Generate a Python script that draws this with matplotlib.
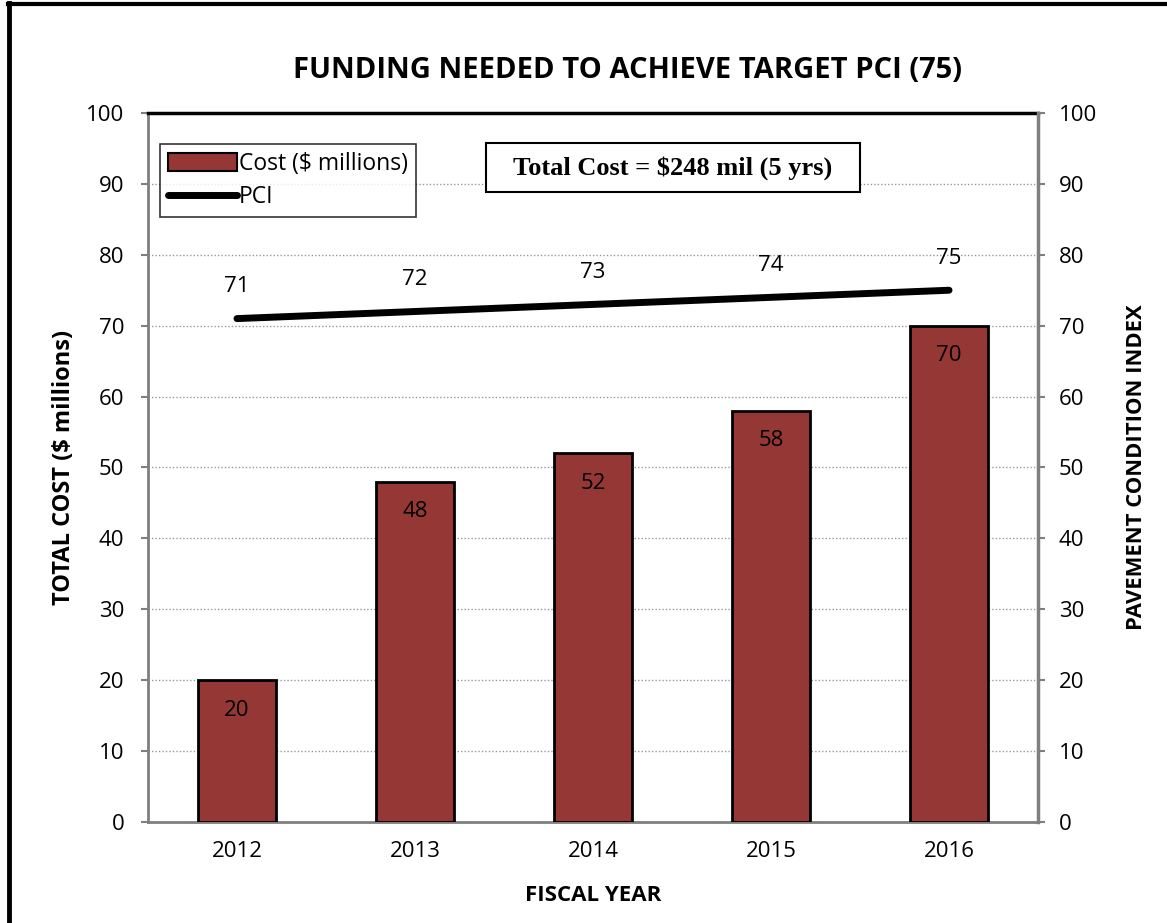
import matplotlib.pyplot as plt
from matplotlib.lines import Line2D
from matplotlib.patches import Rectangle

plt.rcParams['font.family'] = ['Open Sans', 'DejaVu Sans']

years = ['2012', '2013', '2014', '2015', '2016']
cost = [20, 48, 52, 58, 70]
pci = [71, 72, 73, 74, 75]

bar_color = '#953735'
grey = '#7f7f7f'

fig = plt.figure(figsize=(11.67, 9.23), dpi=100)
ax = fig.add_axes([0.1268, 0.1094, 0.7627, 0.7682])
x = list(range(len(years)))

ax.bar(x, cost, width=0.433, color=bar_color, edgecolor='black', linewidth=2, zorder=3)
for xi, v in zip(x, cost):
    ax.annotate(str(v), (xi, v), xytext=(0, -30), textcoords='offset pixels',
                ha='center', va='center', fontsize=16, zorder=4)

ax.set_xlim(-0.5, 4.5)
ax.set_ylim(0, 100)
ax.set_yticks(range(0, 101, 10))
ax.set_xticks(x)
ax.set_xticklabels(years)
ax.grid(axis='y', linestyle=(0, (1, 1.5)), color='#999999', linewidth=1, zorder=0)
ax.tick_params(axis='both', labelsize=16, color=grey, width=1.5, length=5)
ax.tick_params(axis='y', pad=12)
ax.tick_params(axis='x', length=0, pad=14)
for s in ['left', 'bottom', 'right']:
    ax.spines[s].set_color(grey)
    ax.spines[s].set_linewidth(2)
ax.spines['top'].set_color('black')
ax.spines['top'].set_linewidth(2.5)

ax2 = ax.twinx()
ax2.set_ylim(0, 100)
ax2.set_yticks(range(0, 101, 10))
ax2.tick_params(axis='y', labelsize=16, color=grey, width=1.5, length=5, pad=10)
ax2.spines['right'].set_color(grey)
ax2.spines['right'].set_linewidth(2.5)
for s in ['left', 'bottom', 'top']:
    ax2.spines[s].set_visible(False)
ax2.plot(x, pci, color='black', linewidth=5, solid_capstyle='round', zorder=5)
for xi, v in zip(x, pci):
    ax2.annotate(str(v), (xi, v), xytext=(0, 32), textcoords='offset pixels',
                 ha='center', va='center', fontsize=16)

ax.set_ylabel('TOTAL COST ($ millions)', fontsize=17, fontweight='bold', labelpad=7)
ax2.set_ylabel('PAVEMENT CONDITION INDEX', fontsize=15.8, fontweight='bold', labelpad=21)
ax.set_xlabel('FISCAL YEAR', fontsize=16, fontweight='bold', labelpad=16)
fig.text(0.538, 0.924, 'FUNDING NEEDED TO ACHIEVE TARGET PCI (75)', ha='center', va='center',
         fontsize=21, fontweight='bold')

handles = [plt.Rectangle((0, 0), 1, 1, facecolor=bar_color, edgecolor='black', linewidth=1.5),
           Line2D([0], [0], color='black', linewidth=5, solid_capstyle='round')]
leg = ax.legend(handles, ['Cost ($ millions)', 'PCI'], loc='upper left',
                bbox_to_anchor=(0.0134, 0.956), fontsize=16.5, frameon=True, fancybox=False,
                handlelength=3.0, handleheight=0.8, handletextpad=0.1, borderpad=0.35,
                labelspacing=0.4, borderaxespad=0, edgecolor='black')
leg.get_frame().set_linewidth(1.2)
leg.set_zorder(10)

# total cost note box
ax2.add_patch(Rectangle((0.3798, 0.8886), 0.42, 0.0691, transform=ax.transAxes,
                        facecolor='white', edgecolor='black', linewidth=1.5, zorder=9))
ax2.text(0.5899, 0.923, 'Total Cost = $248 mil (5 yrs)', transform=ax.transAxes,
         ha='center', va='center', fontsize=19, fontweight='bold', family='Liberation Serif',
         zorder=10)

# outer frame (top and left edges)
fig.add_artist(Line2D([0.007, 1.0], [0.996, 0.996], color='black', linewidth=3, transform=fig.transFigure))
fig.add_artist(Line2D([0.0075, 0.0075], [0.0, 0.997], color='black', linewidth=3.5, transform=fig.transFigure))

fig.savefig('out.png', dpi=100)
